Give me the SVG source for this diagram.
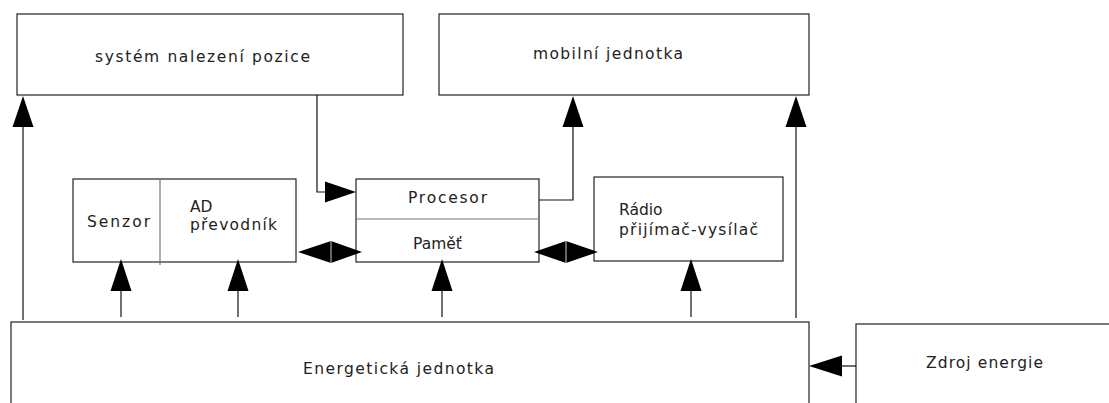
<svg xmlns="http://www.w3.org/2000/svg" width="1109" height="403" viewBox="0 0 1109 403">
<style>
.box{fill:#fff;stroke:#222;stroke-width:1.2}
.div{stroke:#777;stroke-width:1.2}
.t{font-family:"DejaVu Sans",sans-serif;font-size:15.5px;fill:#222}
.c{fill:none;stroke:#111;stroke-width:1.2}
.ah{fill:#000}
</style>
<rect width="1109" height="403" fill="#fff"/>
<g id="pozice">
<rect class="box" x="17" y="14" width="386" height="81"/>
<text class="t" x="95" y="62" textLength="215" lengthAdjust="spacing">systém nalezení pozice</text>
</g>
<g id="mobilni">
<rect class="box" x="439" y="14" width="370" height="81"/>
<text class="t" x="533" y="59" textLength="150" lengthAdjust="spacing">mobilní jednotka</text>
</g>
<g id="senzor">
<rect class="box" x="73" y="179" width="223" height="83"/>
<line class="div" x1="160" y1="179" x2="160" y2="265"/>
<text class="t" x="87" y="227" textLength="63" lengthAdjust="spacing">Senzor</text>
<text class="t" x="190" y="212">AD</text>
<text class="t" x="190" y="230" textLength="87" lengthAdjust="spacing">převodník</text>
</g>
<g id="procesor">
<rect class="box" x="356" y="179" width="183" height="83"/>
<line class="div" x1="356" y1="219" x2="539" y2="219"/>
<text class="t" x="408" y="203" textLength="79" lengthAdjust="spacing">Procesor</text>
<text class="t" x="413" y="249">Paměť</text>
</g>
<g id="radio">
<rect class="box" x="594" y="177" width="189" height="84"/>
<text class="t" x="619" y="215">Rádio</text>
<text class="t" x="619" y="235" textLength="139" lengthAdjust="spacing">přijímač-vysílač</text>
</g>
<g id="energie">
<rect class="box" x="11" y="322" width="798" height="95"/>
<text class="t" x="303" y="374" textLength="191" lengthAdjust="spacing">Energetická jednotka</text>
</g>
<g id="zdroj">
<rect class="box" x="856" y="324" width="270" height="95"/>
<text class="t" x="926" y="368" textLength="117" lengthAdjust="spacing">Zdroj energie</text>
</g>
<g id="connectors">
<line class="c" x1="23" y1="320" x2="23" y2="126"/>
<polygon class="ah" points="23,96 12.5,127 33.5,127"/>
<polyline class="c" points="317,95 317,192 327,192"/>
<polygon class="ah" points="356,192 325,181.5 325,202.5"/>
<polyline class="c" points="539,200 573,200 573,126"/>
<polygon class="ah" points="573,96 562.5,127 583.5,127"/>
<line class="c" x1="796" y1="318" x2="796" y2="126"/>
<polygon class="ah" points="796,96 785.5,127 806.5,127"/>
<line class="c" x1="121" y1="317" x2="121" y2="290"/>
<polygon class="ah" points="121,259 110.5,291 131.5,291"/>
<line class="c" x1="238" y1="317" x2="238" y2="290"/>
<polygon class="ah" points="238,259 227.5,291 248.5,291"/>
<line class="c" x1="442" y1="317" x2="442" y2="290"/>
<polygon class="ah" points="442,259 431.5,291 452.5,291"/>
<line class="c" x1="691" y1="317" x2="691" y2="290"/>
<polygon class="ah" points="691,259 680.5,291 701.5,291"/>
<polygon class="ah" points="298,252 331,241 331,263"/>
<polygon class="ah" points="362,252 331,241 331,263"/>
<line x1="331" y1="241" x2="331" y2="263" stroke="#fff" stroke-width="0.8"/>
<polygon class="ah" points="534,252 566,241 566,263"/>
<polygon class="ah" points="598,252 566,241 566,263"/>
<line x1="566" y1="241" x2="566" y2="263" stroke="#fff" stroke-width="0.8"/>
<line class="c" x1="856" y1="366" x2="840" y2="366"/>
<polygon class="ah" points="809,366 842,355.5 842,376.5"/>
</g>
</svg>
